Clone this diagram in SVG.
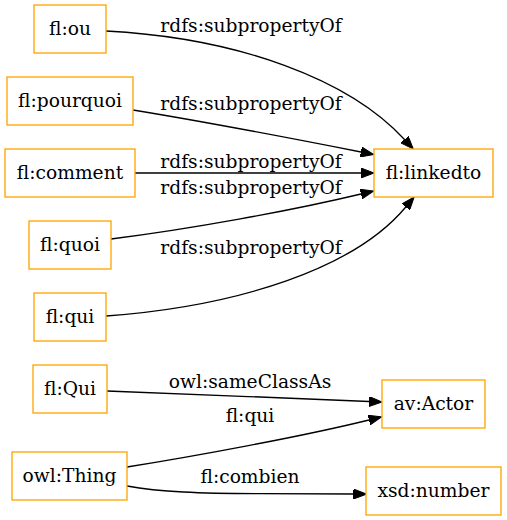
<svg xmlns="http://www.w3.org/2000/svg" width="507" height="520" viewBox="0 0 507 520">
<style>
.node rect{fill:#fff;stroke:#ffa500;stroke-width:1.33}
text{font-family:"DejaVu Serif","Liberation Serif",serif;font-size:18.67px;fill:#000;text-anchor:middle}
.edge path{fill:none;stroke:#000;stroke-width:1.33;marker-end:url(#arr)}
</style>
<defs>
<marker id="arr" markerUnits="userSpaceOnUse" viewBox="0 0 13 10" refX="0" refY="5" markerWidth="13" markerHeight="10" orient="auto">
<path d="M0,0 L13,5 L0,10 z" fill="#000" stroke="#000" stroke-width="1"/>
</marker>
</defs>
<rect width="507" height="520" fill="#fff"/>
<g id="edges">
<g class="edge"><path d="M106,31 C240,38 350,80 404.5,139.5"/><text x="251" y="32">rdfs:subpropertyOf</text></g>
<g class="edge"><path d="M133,110 C200,121 290,138 361,152"/><text x="251" y="110">rdfs:subpropertyOf</text></g>
<g class="edge"><path d="M135,173 L361,173"/><text x="251" y="168">rdfs:subpropertyOf</text></g>
<g class="edge"><path d="M111,239 C190,229 290,211 361,194"/><text x="251" y="194">rdfs:subpropertyOf</text></g>
<g class="edge"><path d="M106,316 C240,306 355,268 405.8,207"/><text x="251" y="254">rdfs:subpropertyOf</text></g>
<g class="edge"><path d="M107,391 C180,394 290,398 369,401.5"/><text x="250" y="388">owl:sameClassAs</text></g>
<g class="edge"><path d="M127,467 C190,457 300,437 369,420"/><text x="250" y="422">fl:qui</text></g>
<g class="edge"><path d="M127,486 C160,492 200,493.5 260,493.7 L353.5,494"/><text x="250" y="483">fl:combien</text></g>
</g>
<g id="fl_ou" class="node"><rect x="34" y="5" width="72" height="48"/><text x="70" y="34.5">fl:ou</text></g>
<g id="fl_pourquoi" class="node"><rect x="7" y="77" width="126" height="48"/><text x="70" y="106.5">fl:pourquoi</text></g>
<g id="fl_comment" class="node"><rect x="5" y="149" width="130" height="48"/><text x="70" y="178.5">fl:comment</text></g>
<g id="fl_quoi" class="node"><rect x="29" y="221" width="82" height="48"/><text x="70" y="250.5">fl:quoi</text></g>
<g id="fl_qui" class="node"><rect x="34" y="293" width="72" height="48"/><text x="70" y="322.5">fl:qui</text></g>
<g id="fl_Qui" class="node"><rect x="33" y="365" width="74" height="48"/><text x="70" y="394.5">fl:Qui</text></g>
<g id="owl_Thing" class="node"><rect x="12" y="452" width="115" height="48"/><text x="69.5" y="481.5">owl:Thing</text></g>
<g id="fl_linkedto" class="node"><rect x="374" y="149" width="119" height="48"/><text x="433.5" y="178.5">fl:linkedto</text></g>
<g id="av_Actor" class="node"><rect x="382" y="380" width="103" height="48"/><text x="433.5" y="409.5">av:Actor</text></g>
<g id="xsd_number" class="node"><rect x="366" y="467" width="135" height="48"/><text x="433.5" y="496.5">xsd:number</text></g>
</svg>
